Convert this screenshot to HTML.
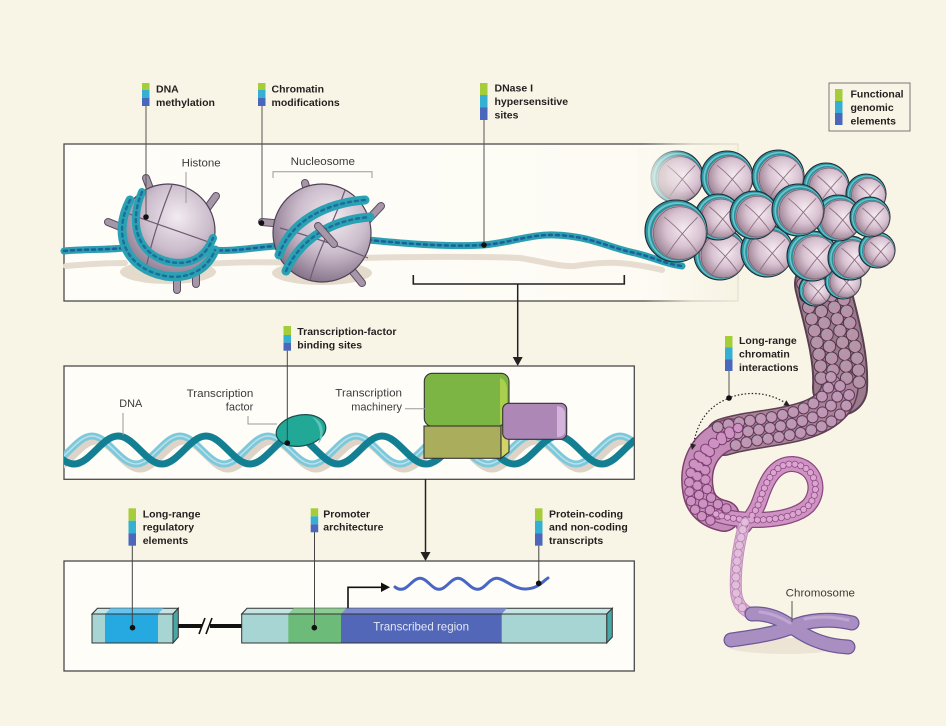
<!DOCTYPE html>
<html><head><meta charset="utf-8">
<style>
html,body{margin:0;padding:0;background:#f9f5e6;}
svg{display:block;}
.b{font-family:"Liberation Sans",sans-serif;font-weight:bold;font-size:10.5px;fill:#231f20;}
.r{font-family:"Liberation Sans",sans-serif;font-size:11px;fill:#3b3b3b;}
</style></head><body>
<svg width="946" height="726" viewBox="0 0 946 726" xmlns="http://www.w3.org/2000/svg">
<defs>
 <radialGradient id="pk" cx="0.58" cy="0.42" r="0.62">
  <stop offset="0" stop-color="#f4eaf0"/><stop offset="0.55" stop-color="#d8c2d1"/><stop offset="1" stop-color="#9c8293"/>
 </radialGradient>
 <radialGradient id="hist" cx="0.6" cy="0.35" r="0.72">
  <stop offset="0" stop-color="#f2ebf1"/><stop offset="0.5" stop-color="#cbbccb"/><stop offset="1" stop-color="#7b6880"/>
 </radialGradient>
 <linearGradient id="p1fill" gradientUnits="userSpaceOnUse" x1="64" y1="0" x2="738" y2="0">
  <stop offset="0" stop-color="#fefdf8"/><stop offset="0.86" stop-color="#fdfbf4"/><stop offset="1" stop-color="#f7f3e3"/>
 </linearGradient>
 <linearGradient id="p1stroke" gradientUnits="userSpaceOnUse" x1="64" y1="0" x2="738" y2="0">
  <stop offset="0" stop-color="#4a4a4a"/><stop offset="0.86" stop-color="#4a4a4a"/><stop offset="0.93" stop-color="#cfcabb"/><stop offset="1" stop-color="#e6e1d2"/>
 </linearGradient>
 <linearGradient id="fade" gradientUnits="userSpaceOnUse" x1="640" y1="0" x2="692" y2="0">
  <stop offset="0" stop-color="#fbf9f0" stop-opacity="0.97"/><stop offset="1" stop-color="#fbf9f0" stop-opacity="0"/>
 </linearGradient>
 <g id="nuc">
  <circle r="1" fill="#2a929f" stroke="#1f2a33" stroke-width="1.1" vector-effect="non-scaling-stroke"/>
  <circle cx="0.04" cy="0.02" r="0.95" fill="#6cc6c9"/>
  <circle cx="0.07" cy="0.04" r="0.91" fill="#2a929f"/>
  <circle cx="0.1" cy="0.06" r="0.87" fill="#c99bab"/>
  <circle cx="0.12" cy="0.07" r="0.85" fill="url(#pk)" stroke="#6d5364" stroke-width="0.6" vector-effect="non-scaling-stroke"/>
  <path d="M-0.38 -0.45 Q0.22 0.02 0.68 0.68" fill="none" stroke="#8d6f83" stroke-width="0.9" vector-effect="non-scaling-stroke"/>
  <path d="M0.7 -0.45 Q0.12 0.12 -0.3 0.78" fill="none" stroke="#8d6f83" stroke-width="0.9" vector-effect="non-scaling-stroke"/>
 </g>
 <clipPath id="c2"><rect x="64" y="366" width="570" height="113"/></clipPath>
</defs>

<rect width="946" height="726" fill="#f9f5e6"/>

<!-- PANEL 1 -->
<rect x="64" y="144" width="674" height="157" fill="url(#p1fill)" stroke="url(#p1stroke)" stroke-width="1.3"/>

<g fill="none" stroke="#e6ddd0" stroke-width="6" stroke-linecap="round">
 <path d="M 66 266 C 90 264, 110 263, 125 263"/>
 <path d="M 205 264 C 240 262, 270 262, 290 263"/>
 <path d="M 360 258 C 400 257, 480 256, 520 258 C 545 262, 560 267, 575 266 C 600 262, 620 260, 662 270"/>
</g>
<ellipse cx="168" cy="272" rx="48" ry="12" fill="#e4dbcd"/>
<ellipse cx="322" cy="273" rx="50" ry="12" fill="#e4dbcd"/>

<g fill="none" stroke-linecap="round">
 <g stroke="#2b9fb0" stroke-width="7">
  <path d="M 64 251 C 85 249, 105 250, 124 248"/>
  <path d="M 212 250 C 235 252, 255 247, 277 246"/>
  <path d="M 368 240 C 410 244, 450 247, 483 245 C 510 243, 530 234, 555 235 C 590 236, 610 248, 635 253 C 650 256, 665 264, 682 266"/>
 </g>
 <g stroke="#1d5f9c" stroke-width="2.5" stroke-dasharray="3 4">
  <path d="M 64 251 C 85 249, 105 250, 124 248"/>
  <path d="M 212 250 C 235 252, 255 247, 277 246"/>
  <path d="M 368 240 C 410 244, 450 247, 483 245 C 510 243, 530 234, 555 235 C 590 236, 610 248, 635 253 C 650 256, 665 264, 682 266"/>
 </g>
</g>

<g fill="none" stroke-linecap="round">
 <g stroke="#5c4d61" stroke-width="8">
  <path d="M108 222 L128 230"/><path d="M146 178 L152 194"/><path d="M216 196 L203 214"/><path d="M177 290 L177 270"/><path d="M196 284 L196 270"/>
  <path d="M262 222 L284 224"/><path d="M305 183 L309 197"/><path d="M381 206 L366 222"/><path d="M362 283 L350 268"/>
 </g>
 <g stroke="#a596a8" stroke-width="6">
  <path d="M108 222 L128 230"/><path d="M146 178 L152 194"/><path d="M216 196 L203 214"/><path d="M177 290 L177 270"/><path d="M196 284 L196 270"/>
  <path d="M262 222 L284 224"/><path d="M305 183 L309 197"/><path d="M381 206 L366 222"/><path d="M362 283 L350 268"/>
 </g>
</g>

<circle cx="168" cy="231" r="47" fill="url(#hist)" stroke="#4f4257" stroke-width="1.2"/>
<g fill="none" stroke="#6e5b72" stroke-width="1.2">
 <path d="M 172 185 C 160 215, 150 245, 145 274"/>
 <path d="M 124 212 C 150 222, 190 235, 214 244"/>
</g>
<g fill="none" stroke-linecap="round">
 <path d="M 130 200 C 112 235, 125 268, 165 276 C 190 280, 208 268, 215 250" stroke="#2ba2b3" stroke-width="9"/>
 <path d="M 142 192 C 128 225, 138 255, 170 262 C 192 266, 206 256, 213 238" stroke="#2ba2b3" stroke-width="8"/>
 <path d="M 130 200 C 112 235, 125 268, 165 276 C 190 280, 208 268, 215 250" stroke="#1c6f9a" stroke-width="2.5" stroke-dasharray="3 4"/>
 <path d="M 142 192 C 128 225, 138 255, 170 262 C 192 266, 206 256, 213 238" stroke="#1c6f9a" stroke-width="2.5" stroke-dasharray="3 4"/>
</g>

<circle cx="322" cy="233" r="49" fill="url(#hist)" stroke="#4f4257" stroke-width="1.2"/>
<g fill="none" stroke="#6e5b72" stroke-width="1.2">
 <path d="M 345 190 C 335 220, 318 250, 310 280"/>
 <path d="M 280 228 C 310 236, 345 248, 368 258"/>
</g>
<g fill="none" stroke-linecap="round">
 <path d="M 279 255 C 290 222, 325 203, 365 200" stroke="#2ba2b3" stroke-width="9"/>
 <path d="M 286 271 C 300 240, 330 220, 370 217" stroke="#2ba2b3" stroke-width="9"/>
 <path d="M 279 255 C 290 222, 325 203, 365 200" stroke="#1c6f9a" stroke-width="2.5" stroke-dasharray="3 4"/>
 <path d="M 286 271 C 300 240, 330 220, 370 217" stroke="#1c6f9a" stroke-width="2.5" stroke-dasharray="3 4"/>
</g>
<g fill="none" stroke-linecap="round">
 <path d="M318 226 L334 244" stroke="#5c4d61" stroke-width="8"/>
 <path d="M318 226 L334 244" stroke="#a596a8" stroke-width="6"/>
</g>

<text class="r" x="181.7" y="166.7" textLength="39" lengthAdjust="spacingAndGlyphs">Histone</text>
<line x1="186" y1="172" x2="186" y2="203" stroke="#999" stroke-width="1"/>
<text class="r" x="290.7" y="165" textLength="64.3" lengthAdjust="spacingAndGlyphs">Nucleosome</text>
<path d="M273 178 V171.7 H372 V178" fill="none" stroke="#999" stroke-width="1"/>

<path d="M413.3 275 V284 H624.3 V275" fill="none" stroke="#222" stroke-width="1.6"/>
<line x1="517.7" y1="284" x2="517.7" y2="358" stroke="#222" stroke-width="1.5"/>
<polygon points="512.7,357 522.7,357 517.7,366" fill="#222"/>

<!-- FIBER -->
<g fill="none" stroke-linecap="round">
 <path d="M 822 284 C 830 318, 842 355, 840 388" stroke="#5a3f51" stroke-width="56"/>
 <path d="M 822 284 C 830 318, 842 355, 840 388" stroke="#9b7a8d" stroke-width="52"/>
 <path d="M 840 386 C 838 410, 812 420, 786 425 C 762 430, 742 431, 724 437" stroke="#5e3f56" stroke-width="38"/>
 <path d="M 840 386 C 838 410, 812 420, 786 425 C 762 430, 742 431, 724 437" stroke="#a98299" stroke-width="35"/>
 <path d="M 730 434 C 704 442, 694 466, 698 490 C 700 505, 710 513, 724 516" stroke="#7e416f" stroke-width="32"/>
 <path d="M 730 434 C 704 442, 694 466, 698 490 C 700 505, 710 513, 724 516" stroke="#c48bb8" stroke-width="29"/>
 <path d="M 716 514 C 740 523, 790 523, 808 506 C 822 491, 816 466, 793 464 C 773 463, 765 485, 760 500 C 756 512, 750 518, 744 526" stroke="#8a4a7e" stroke-width="16"/>
 <path d="M 716 514 C 740 523, 790 523, 808 506 C 822 491, 816 466, 793 464 C 773 463, 765 485, 760 500 C 756 512, 750 518, 744 526" stroke="#cf93c3" stroke-width="13.5"/>
 <path d="M 745 522 C 737 548, 735 575, 736 592 C 737 603, 742 610, 752 614" stroke="#c18fba" stroke-width="12"/>
 <path d="M 745 522 C 737 548, 735 575, 736 592 C 737 603, 742 610, 752 614" stroke="#dcb2d6" stroke-width="10"/>

 <g stroke-dasharray="0 12">
  <g stroke="#4f3647" stroke-width="13.5">
   <path transform="translate(-19,0)" d="M 822 284 C 830 318, 842 355, 840 388"/>
   <path transform="translate(-6.5,4)" d="M 822 284 C 830 318, 842 355, 840 388"/>
   <path transform="translate(6.5,0)" d="M 822 284 C 830 318, 842 355, 840 388"/>
   <path transform="translate(19,4)" d="M 822 284 C 830 318, 842 355, 840 388"/>
  </g>
  <g stroke="#b892a9" stroke-width="11.5">
   <path transform="translate(-19,0)" d="M 822 284 C 830 318, 842 355, 840 388"/>
   <path transform="translate(-6.5,4)" d="M 822 284 C 830 318, 842 355, 840 388"/>
   <path transform="translate(6.5,0)" d="M 822 284 C 830 318, 842 355, 840 388"/>
   <path transform="translate(19,4)" d="M 822 284 C 830 318, 842 355, 840 388"/>
  </g>
  <g stroke="#9ea3ae" stroke-width="3">
   <path transform="translate(-21,-2)" d="M 822 284 C 830 318, 842 355, 840 388"/>
   <path transform="translate(-8.5,2)" d="M 822 284 C 830 318, 842 355, 840 388"/>
   <path transform="translate(4.5,-2)" d="M 822 284 C 830 318, 842 355, 840 388"/>
   <path transform="translate(17,2)" d="M 822 284 C 830 318, 842 355, 840 388"/>
  </g>
 </g>
 <g stroke-dasharray="0 11">
  <g stroke="#5e3b55" stroke-width="12">
   <path transform="translate(-9,-9)" d="M 840 386 C 838 410, 812 420, 786 425 C 762 430, 742 431, 724 437"/>
   <path d="M 840 386 C 838 410, 812 420, 786 425 C 762 430, 742 431, 724 437"/>
   <path transform="translate(9,9)" d="M 840 386 C 838 410, 812 420, 786 425 C 762 430, 742 431, 724 437"/>
  </g>
  <g stroke="#c096b5" stroke-width="10">
   <path transform="translate(-9,-9)" d="M 840 386 C 838 410, 812 420, 786 425 C 762 430, 742 431, 724 437"/>
   <path d="M 840 386 C 838 410, 812 420, 786 425 C 762 430, 742 431, 724 437"/>
   <path transform="translate(9,9)" d="M 840 386 C 838 410, 812 420, 786 425 C 762 430, 742 431, 724 437"/>
  </g>
  <g stroke="#a9a9b6" stroke-width="2.5">
   <path transform="translate(-11,-11)" d="M 840 386 C 838 410, 812 420, 786 425 C 762 430, 742 431, 724 437"/>
   <path transform="translate(-2,-2)" d="M 840 386 C 838 410, 812 420, 786 425 C 762 430, 742 431, 724 437"/>
   <path transform="translate(7,7)" d="M 840 386 C 838 410, 812 420, 786 425 C 762 430, 742 431, 724 437"/>
  </g>
 </g>
 <g stroke-dasharray="0 9.5">
  <g stroke="#7d3f70" stroke-width="10.5">
   <path transform="translate(-8,6)" d="M 730 434 C 704 442, 694 466, 698 490 C 700 505, 710 513, 724 516"/>
   <path d="M 730 434 C 704 442, 694 466, 698 490 C 700 505, 710 513, 724 516"/>
   <path transform="translate(8,-6)" d="M 730 434 C 704 442, 694 466, 698 490 C 700 505, 710 513, 724 516"/>
  </g>
  <g stroke="#cd92c1" stroke-width="8.5">
   <path transform="translate(-8,6)" d="M 730 434 C 704 442, 694 466, 698 490 C 700 505, 710 513, 724 516"/>
   <path d="M 730 434 C 704 442, 694 466, 698 490 C 700 505, 710 513, 724 516"/>
   <path transform="translate(8,-6)" d="M 730 434 C 704 442, 694 466, 698 490 C 700 505, 710 513, 724 516"/>
  </g>
 </g>
 <path d="M 716 514 C 740 523, 790 523, 808 506 C 822 491, 816 466, 793 464 C 773 463, 765 485, 760 500 C 756 512, 750 518, 744 526" stroke="#8a4a7e" stroke-width="7" stroke-dasharray="0 6"/>
 <path d="M 716 514 C 740 523, 790 523, 808 506 C 822 491, 816 466, 793 464 C 773 463, 765 485, 760 500 C 756 512, 750 518, 744 526" stroke="#dca4d2" stroke-width="5.5" stroke-dasharray="0 6"/>
 <path d="M 745 522 C 737 548, 735 575, 736 592 C 737 603, 742 610, 752 614" stroke="#b07fa9" stroke-width="9" stroke-dasharray="0 8"/>
 <path d="M 745 522 C 737 548, 735 575, 736 592 C 737 603, 742 610, 752 614" stroke="#e2bddc" stroke-width="7.5" stroke-dasharray="0 8"/>
</g>

<ellipse cx="785" cy="646" rx="58" ry="8" fill="#ece4d5"/>
<g fill="none" stroke-linecap="round">
 <path d="M 752 614 C 770 613, 782 620, 792 627 C 805 636, 822 646, 848 647" stroke="#6c5897" stroke-width="15"/>
 <path d="M 731 640 C 752 637, 775 634, 792 627 C 808 620, 830 618, 852 623" stroke="#6c5897" stroke-width="15"/>
 <path d="M 752 614 C 770 613, 782 620, 792 627 C 805 636, 822 646, 848 647" stroke="#a98ec2" stroke-width="12.5"/>
 <path d="M 731 640 C 752 637, 775 634, 792 627 C 808 620, 830 618, 852 623" stroke="#a98ec2" stroke-width="12.5"/>
 <path d="M 760 612 C 772 613, 782 618, 790 623" stroke="#bfa6d3" stroke-width="3"/>
 <path d="M 805 619 C 820 616, 835 617, 848 620" stroke="#bfa6d3" stroke-width="3"/>
</g>
<text class="r" x="785.7" y="596.7" textLength="69.3" lengthAdjust="spacingAndGlyphs">Chromosome</text>
<line x1="792" y1="601" x2="792" y2="622" stroke="#555" stroke-width="1"/>

<!-- CLUSTER -->
<use href="#nuc" transform="translate(677,177) scale(26)"/>
<rect x="638" y="148" width="54" height="90" fill="url(#fade)"/>
<use href="#nuc" transform="translate(727,177) scale(26)"/>
<use href="#nuc" transform="translate(778,176) scale(26)"/>
<use href="#nuc" transform="translate(826,186) scale(23)"/>
<use href="#nuc" transform="translate(866,194) scale(20)"/>
<use href="#nuc" transform="translate(815,290) scale(16)"/>
<use href="#nuc" transform="translate(843,281) scale(18)"/>
<use href="#nuc" transform="translate(720,254) scale(26)"/>
<use href="#nuc" transform="translate(767,251) scale(26)"/>
<use href="#nuc" transform="translate(812,256) scale(25)"/>
<use href="#nuc" transform="translate(850,258) scale(22)"/>
<use href="#nuc" transform="translate(877,250) scale(18)"/>
<use href="#nuc" transform="translate(718,217) scale(23)"/>
<use href="#nuc" transform="translate(754,215) scale(24)"/>
<use href="#nuc" transform="translate(838,218) scale(23)"/>
<use href="#nuc" transform="translate(870,217) scale(20)"/>
<use href="#nuc" transform="translate(798,210) scale(26)"/>
<use href="#nuc" transform="translate(676,231) scale(31)"/>

<!-- PANEL 2 -->
<rect x="64" y="366" width="570.3" height="113.3" fill="#fefdf8" stroke="#4a4a4a" stroke-width="1.3"/>
<g clip-path="url(#c2)" fill="none">
 <path transform="translate(4,5)" d="M 4 436 C 19.8 436 32.2 464 48 464 S 76.2 436 92 436 S 120.2 464 136 464 S 164.2 436 180 436 S 208.2 464 224 464 S 252.2 436 268 436 S 296.2 464 312 464 S 340.2 436 356 436 S 384.2 464 400 464 S 428.2 436 444 436 S 472.2 464 488 464 S 516.2 436 532 436 S 560.2 464 576 464 S 604.2 436 620 436 S 648.2 464 664 464" stroke="#ddd3c6" stroke-width="7"/>
 <path d="M 4 436 C 19.8 436 32.2 464 48 464 S 76.2 436 92 436 S 120.2 464 136 464 S 164.2 436 180 436 S 208.2 464 224 464 S 252.2 436 268 436 S 296.2 464 312 464 S 340.2 436 356 436 S 384.2 464 400 464 S 428.2 436 444 436 S 472.2 464 488 464 S 516.2 436 532 436 S 560.2 464 576 464 S 604.2 436 620 436 S 648.2 464 664 464" stroke="#7dc8da" stroke-width="7"/>
 <path d="M 4 436 C 19.8 436 32.2 464 48 464 S 76.2 436 92 436 S 120.2 464 136 464 S 164.2 436 180 436 S 208.2 464 224 464 S 252.2 436 268 436 S 296.2 464 312 464 S 340.2 436 356 436 S 384.2 464 400 464 S 428.2 436 444 436 S 472.2 464 488 464 S 516.2 436 532 436 S 560.2 464 576 464 S 604.2 436 620 436 S 648.2 464 664 464" stroke="#b8e2ec" stroke-width="1.5"/>
 <path d="M 30 436 C 45.8 436 58.2 464 74 464 S 102.2 436 118 436 S 146.2 464 162 464 S 190.2 436 206 436 S 234.2 464 250 464 S 278.2 436 294 436 S 322.2 464 338 464 S 366.2 436 382 436 S 410.2 464 426 464 S 454.2 436 470 436 S 498.2 464 514 464 S 542.2 436 558 436 S 586.2 464 602 464 S 630.2 436 646 436" stroke="#137f93" stroke-width="7"/>
</g>
<ellipse cx="301" cy="430.5" rx="25" ry="15.5" transform="rotate(-10 301 430.5)" fill="#22a897" stroke="#1d4f4d" stroke-width="1.2"/>
<path d="M 312 417 C 324 420, 326 436, 318 444 C 322 434, 320 424, 312 417 Z" fill="#5dc6b9"/>
<rect x="424.3" y="373.3" width="84.7" height="53" rx="8" fill="#7db544" stroke="#333" stroke-width="1.1"/>
<path d="M 500 378 Q 507 380 507 390 V 418 Q 506 424 500 424 Z" fill="#a8d04c"/>
<rect x="424" y="426" width="77" height="32.3" fill="#a9ad5c" stroke="#333" stroke-width="1.1"/>
<polygon points="501,426 509,419 509,452 501,458.3" fill="#d2d46a" stroke="#333" stroke-width="1.1"/>
<rect x="502.7" y="403.3" width="64" height="36" rx="6" fill="#ad87b6" stroke="#333" stroke-width="1.1"/>
<path d="M 557 406 Q 565 407 565 414 V 432 Q 564 437 557 437 Z" fill="#d4b3dd"/>

<text class="r" x="119.3" y="407" textLength="23" lengthAdjust="spacingAndGlyphs">DNA</text>
<line x1="123" y1="413" x2="123" y2="435" stroke="#999" stroke-width="1"/>
<text class="r" x="253.3" y="397" text-anchor="end" textLength="66.7" lengthAdjust="spacingAndGlyphs">Transcription</text>
<text class="r" x="253.3" y="410.7" text-anchor="end">factor</text>
<path d="M248 416 V424 H277" fill="none" stroke="#999" stroke-width="1"/>
<text class="r" x="402" y="396.7" text-anchor="end" textLength="66.7" lengthAdjust="spacingAndGlyphs">Transcription</text>
<text class="r" x="402" y="410.7" text-anchor="end">machinery</text>
<line x1="405" y1="408.7" x2="428" y2="408.7" stroke="#999" stroke-width="1"/>

<line x1="425.5" y1="479" x2="425.5" y2="553" stroke="#222" stroke-width="1.5"/>
<polygon points="420.5,552 430.5,552 425.5,561" fill="#222"/>

<!-- PANEL 3 -->
<rect x="64" y="561" width="570.3" height="110" fill="#fefdf8" stroke="#4a4a4a" stroke-width="1.3"/>
<polygon points="92,614 97.5,608.3 178.3,608.3 173,614" fill="#c4e5e3" stroke="#333" stroke-width="1"/>
<polygon points="105,614 110.5,608.3 163.5,608.3 158,614" fill="#66c3ec"/>
<polygon points="173,614 178.3,608.3 178.3,637 173,643" fill="#46a9a8" stroke="#333" stroke-width="1"/>
<rect x="92" y="614" width="81" height="29" fill="#a7d5d3" stroke="#333" stroke-width="1"/>
<rect x="105" y="614.5" width="53" height="28" fill="#26a9e1"/>
<line x1="178.3" y1="626" x2="202" y2="626" stroke="#111" stroke-width="4"/>
<line x1="210" y1="626" x2="242" y2="626" stroke="#111" stroke-width="4"/>
<line x1="199" y1="634" x2="205" y2="618" stroke="#111" stroke-width="1.6"/>
<line x1="206" y1="634" x2="212" y2="618" stroke="#111" stroke-width="1.6"/>
<polygon points="241.7,614 247,608.3 612.3,608.3 606.7,614" fill="#c4e5e3" stroke="#333" stroke-width="1"/>
<polygon points="288.3,614 293.6,608.3 346.3,608.3 341,614" fill="#8ccb92"/>
<polygon points="341,614 346.3,608.3 507,608.3 501.7,614" fill="#7d8bd0"/>
<polygon points="606.7,614 612.3,608.3 612.3,637 606.7,643" fill="#46a9a8" stroke="#333" stroke-width="1"/>
<rect x="241.7" y="614" width="365" height="29" fill="#a7d5d3" stroke="#333" stroke-width="1"/>
<rect x="288.3" y="614.5" width="52.7" height="28" fill="#6cbb78"/>
<rect x="341" y="614.5" width="160.7" height="28" fill="#5267b7"/>
<text x="373.3" y="630.7" textLength="95.7" lengthAdjust="spacingAndGlyphs" style="font-family:'Liberation Sans',sans-serif;font-size:12px;fill:#e3e6f6;">Transcribed region</text>
<polyline points="348,608.3 348,587.3 383,587.3" fill="none" stroke="#111" stroke-width="1.6"/>
<polygon points="381,582.5 381,592 390,587.3" fill="#111"/>
<path d="M 395 587 Q 398 589.3 401 589.3 C 408 589.3 413 578.3 420 578.3 S 432 589.3 439 589.3 S 451 578.3 458 578.3 S 470 589.3 477.5 589.3 S 489 578.3 496.7 578.3 S 514 589.5 526 589 S 542 582 548 578" fill="none" stroke="#4a66c4" stroke-width="3" stroke-linecap="round"/>

<!-- LABELS -->
<g>
 <rect x="142" y="83" width="7.5" height="7" fill="#a5cd39"/><rect x="142" y="90" width="7.5" height="8" fill="#35b0d2"/><rect x="142" y="98" width="7.5" height="8" fill="#4b67bb"/>
 <text class="b" x="156" y="92.5">DNA</text><text class="b" x="156" y="106">methylation</text>
 <line x1="146" y1="106" x2="146" y2="217" stroke="#555" stroke-width="1"/><circle cx="146" cy="217" r="2.8" fill="#111"/>
 <rect x="258" y="83" width="7.5" height="7" fill="#a5cd39"/><rect x="258" y="90" width="7.5" height="8" fill="#35b0d2"/><rect x="258" y="98" width="7.5" height="8" fill="#4b67bb"/>
 <text class="b" x="271.5" y="92.5">Chromatin</text><text class="b" x="271.5" y="106">modifications</text>
 <line x1="262" y1="106" x2="262" y2="223" stroke="#555" stroke-width="1"/><circle cx="261.5" cy="223" r="2.8" fill="#111"/>
 <rect x="480" y="83" width="7.5" height="12" fill="#a5cd39"/><rect x="480" y="95" width="7.5" height="12.5" fill="#35b0d2"/><rect x="480" y="107.5" width="7.5" height="12.5" fill="#4b67bb"/>
 <text class="b" x="494.5" y="91.5">DNase I</text><text class="b" x="494.5" y="105">hypersensitive</text><text class="b" x="494.5" y="118.5">sites</text>
 <line x1="484" y1="120" x2="484" y2="245" stroke="#555" stroke-width="1"/><circle cx="484" cy="245" r="2.8" fill="#111"/>
 <rect x="829" y="83" width="81" height="48" fill="none" stroke="#777" stroke-width="1"/>
 <rect x="835" y="89" width="7.5" height="12" fill="#a5cd39"/><rect x="835" y="101" width="7.5" height="12" fill="#35b0d2"/><rect x="835" y="113" width="7.5" height="12" fill="#4b67bb"/>
 <text class="b" x="850.5" y="97.5">Functional</text><text class="b" x="850.5" y="111">genomic</text><text class="b" x="850.5" y="124.5">elements</text>
 <rect x="283.5" y="326" width="7.5" height="9" fill="#a5cd39"/><rect x="283.5" y="335" width="7.5" height="7.7" fill="#35b0d2"/><rect x="283.5" y="342.7" width="7.5" height="8" fill="#4b67bb"/>
 <text class="b" x="297.3" y="335">Transcription-factor</text><text class="b" x="297.3" y="348.5">binding sites</text>
 <line x1="287.3" y1="350.7" x2="287.3" y2="443" stroke="#444" stroke-width="1"/><circle cx="287.3" cy="443" r="2.8" fill="#111"/>
 <rect x="725" y="336" width="7.5" height="11.5" fill="#a5cd39"/><rect x="725" y="347.5" width="7.5" height="11.7" fill="#35b0d2"/><rect x="725" y="359.2" width="7.5" height="11.8" fill="#4b67bb"/>
 <text class="b" x="739" y="344">Long-range</text><text class="b" x="739" y="357.5">chromatin</text><text class="b" x="739" y="371">interactions</text>
 <line x1="729" y1="371" x2="729" y2="398" stroke="#555" stroke-width="1"/><circle cx="729" cy="398" r="2.8" fill="#111"/>
 <path d="M 731 397 Q 760 388 784 402" fill="none" stroke="#222" stroke-width="1.2" stroke-dasharray="1.5 2"/>
 <polygon points="790,406 783.3,405.5 786.3,400.3" fill="#222"/>
 <path d="M 727 399 Q 700 410 694 442" fill="none" stroke="#222" stroke-width="1.2" stroke-dasharray="1.5 2"/>
 <polygon points="692,450 696.1,444.7 690.3,443.5" fill="#222"/>
 <rect x="128.5" y="508.3" width="7.5" height="12.4" fill="#a5cd39"/><rect x="128.5" y="520.7" width="7.5" height="12.5" fill="#35b0d2"/><rect x="128.5" y="533.2" width="7.5" height="12.5" fill="#4b67bb"/>
 <text class="b" x="142.7" y="517.3">Long-range</text><text class="b" x="142.7" y="530.7">regulatory</text><text class="b" x="142.7" y="544">elements</text>
 <line x1="132.3" y1="545.7" x2="132.3" y2="627.7" stroke="#444" stroke-width="1"/><circle cx="132.5" cy="627.7" r="2.8" fill="#111"/>
 <rect x="310.7" y="508.3" width="7.5" height="8" fill="#a5cd39"/><rect x="310.7" y="516.3" width="7.5" height="8" fill="#35b0d2"/><rect x="310.7" y="524.3" width="7.5" height="8" fill="#4b67bb"/>
 <text class="b" x="323.3" y="517.3">Promoter</text><text class="b" x="323.3" y="530.7">architecture</text>
 <line x1="314.5" y1="532.3" x2="314.5" y2="627.7" stroke="#444" stroke-width="1"/><circle cx="314.3" cy="627.7" r="2.8" fill="#111"/>
 <rect x="535" y="508.3" width="7.5" height="12.4" fill="#a5cd39"/><rect x="535" y="520.7" width="7.5" height="12.5" fill="#35b0d2"/><rect x="535" y="533.2" width="7.5" height="12.5" fill="#4b67bb"/>
 <text class="b" x="549" y="517.3">Protein-coding</text><text class="b" x="549" y="530.7">and non-coding</text><text class="b" x="549" y="544">transcripts</text>
 <line x1="538.8" y1="545.7" x2="538.8" y2="583" stroke="#444" stroke-width="1"/><circle cx="538.7" cy="583.3" r="2.8" fill="#111"/>
</g>
</svg>
</body></html>
